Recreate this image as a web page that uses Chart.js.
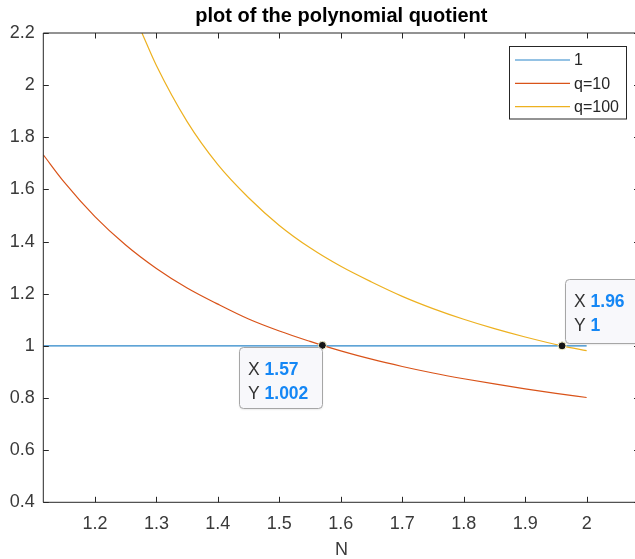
<!DOCTYPE html>
<html>
<head>
<meta charset="utf-8">
<script src="https://cdn.jsdelivr.net/npm/chart.js@4.4.0/dist/chart.umd.min.js"></script>
<style>
html, body { margin: 0; padding: 0; overflow: hidden; background: #fff; }
#wrap { width: 650px; height: 559px; }
</style>
</head>
<body>
<div id="wrap"><canvas id="c" width="650" height="559"></canvas></div>
<script>
// values
var xTicks = [1.2, 1.3, 1.4, 1.5, 1.6, 1.7, 1.8, 1.9, 2];
var yTicks = [0.4, 0.6, 0.8, 1, 1.2, 1.4, 1.6, 1.8, 2, 2.2];

var oneN = [1.116, 2.0];
var oneVal = [1, 1];

var q10N   = [1.116, 1.15, 1.20, 1.25, 1.30, 1.35, 1.40, 1.45, 1.50, 1.55, 1.57, 1.60, 1.65, 1.70, 1.75, 1.80, 1.85, 1.90, 1.95, 2.0];
var q10Val = [1.733, 1.628, 1.496, 1.387, 1.297, 1.222, 1.160, 1.103, 1.057, 1.017, 1.002, 0.981, 0.949, 0.921, 0.896, 0.874, 0.854, 0.835, 0.818, 0.802];

var q100N   = [1.2765, 1.30, 1.35, 1.40, 1.45, 1.50, 1.55, 1.60, 1.65, 1.70, 1.75, 1.80, 1.85, 1.90, 1.96, 2.0];
var q100Val = [2.2, 2.075, 1.860, 1.695, 1.568, 1.462, 1.376, 1.305, 1.245, 1.190, 1.143, 1.102, 1.066, 1.034, 1.0, 0.982];

var tipN = [1.57, 1.96];
var tipVal = [1.002, 1];
var tipLabels = [["1.57", "1.002"], ["1.96", "1"]];

var seriesNames = ["1", "q=10", "q=100"];
var seriesColors = ["#2a86c9", "#D95319", "#EDB120"];

var FONT = '"Liberation Sans", Arial, Helvetica, sans-serif';
var AXIS_COLOR = '#262626';
var TEXT_COLOR = '#3a3a3a';

function pts(xs, ys) {
    var out = [];
    for (var i = 0; i < xs.length; i++) out.push({x: xs[i], y: ys[i]});
    return out;
}

// axes box with inward ticks, like the original figure
var framePlugin = {
    id: 'frame',
    afterDatasetsDraw: function(chart) {
        var ctx = chart.ctx, a = chart.chartArea;
        var xs = chart.scales.x, ys = chart.scales.y;
        var tl = 5.5;
        ctx.save();
        ctx.strokeStyle = AXIS_COLOR;
        ctx.lineWidth = 1;
        ctx.beginPath();
        ctx.rect(a.left, a.top, a.right - a.left, a.bottom - a.top);
        for (var i = 0; i < xTicks.length; i++) {
            var px = Math.round(xs.getPixelForValue(xTicks[i])) + 0.5;
            ctx.moveTo(px, a.bottom); ctx.lineTo(px, a.bottom - tl);
            ctx.moveTo(px, a.top); ctx.lineTo(px, a.top + tl);
        }
        for (var j = 0; j < yTicks.length; j++) {
            var py = Math.round(ys.getPixelForValue(yTicks[j])) + 0.5;
            ctx.moveTo(a.left, py); ctx.lineTo(a.left + tl, py);
            ctx.moveTo(a.right, py); ctx.lineTo(a.right - tl, py);
        }
        ctx.stroke();
        ctx.restore();
    }
};

var legendPlugin = {
    id: 'boxLegend',
    afterDraw: function(chart) {
        var ctx = chart.ctx;
        var bx = 509.5, by = 46.5, bw = 117, bh = 72.5;
        ctx.save();
        ctx.fillStyle = '#fff';
        ctx.fillRect(bx, by, bw, bh);
        ctx.strokeStyle = AXIS_COLOR;
        ctx.lineWidth = 1;
        ctx.strokeRect(bx, by, bw, bh);
        ctx.font = '16px ' + FONT;
        ctx.textBaseline = 'middle';
        ctx.textAlign = 'left';
        for (var i = 0; i < seriesNames.length; i++) {
            var ry = 60 + i * 23.3;
            ctx.strokeStyle = seriesColors[i];
            ctx.lineWidth = 1.2;
            ctx.beginPath();
            ctx.moveTo(515, ry); ctx.lineTo(570, ry);
            ctx.stroke();
            ctx.fillStyle = AXIS_COLOR;
            ctx.fillText(seriesNames[i], 574, ry + 1);
        }
        ctx.restore();
    }
};

function roundRect(ctx, x, y, w, h, r) {
    ctx.beginPath();
    ctx.moveTo(x + r, y);
    ctx.lineTo(x + w - r, y); ctx.quadraticCurveTo(x + w, y, x + w, y + r);
    ctx.lineTo(x + w, y + h - r); ctx.quadraticCurveTo(x + w, y + h, x + w - r, y + h);
    ctx.lineTo(x + r, y + h); ctx.quadraticCurveTo(x, y + h, x, y + h - r);
    ctx.lineTo(x, y + r); ctx.quadraticCurveTo(x, y, x + r, y);
    ctx.closePath();
}

// data tips next to the two marked points
var tipPlugin = {
    id: 'dataTips',
    afterDraw: function(chart) {
        var ctx = chart.ctx;
        var xs = chart.scales.x, ys = chart.scales.y;
        // box offsets relative to the marked point
        var offs = [{dx: -83, dy: 1.5, w: 83, h: 61}, {dx: 3, dy: -66.5, w: 76, h: 64}];
        ctx.save();
        for (var i = 0; i < tipN.length; i++) {
            var px = xs.getPixelForValue(tipN[i]);
            var py = ys.getPixelForValue(tipVal[i]);
            var o = offs[i];
            var bx = Math.round(px + o.dx) + 0.5, by = Math.round(py + o.dy) + 0.5;
            ctx.shadowColor = 'rgba(0,0,0,0.12)';
            ctx.shadowBlur = 2;
            ctx.shadowOffsetY = 1;
            roundRect(ctx, bx, by, o.w, o.h, 4);
            ctx.fillStyle = '#f8f8fb';
            ctx.fill();
            ctx.shadowColor = 'transparent';
            ctx.strokeStyle = '#a6a6a6';
            ctx.lineWidth = 1;
            ctx.stroke();

            ctx.textBaseline = 'alphabetic';
            ctx.textAlign = 'left';
            var names = ['X ', 'Y '];
            for (var k = 0; k < 2; k++) {
                var ty = by + 27.5 + k * 23.5;
                ctx.font = '17.5px ' + FONT;
                ctx.fillStyle = '#333';
                ctx.fillText(names[k], bx + 8.5, ty);
                var w = ctx.measureText(names[k]).width;
                ctx.font = 'bold 17.5px ' + FONT;
                ctx.fillStyle = '#1587f5';
                ctx.fillText(tipLabels[i][k], bx + 8.5 + w, ty);
            }
        }
        ctx.restore();
    }
};

Chart.defaults.font.family = FONT;

new Chart(document.getElementById('c'), {
    type: 'line',
    data: {
        datasets: [
            {
                label: 'tips', data: pts(tipN, tipVal), showLine: false, order: 0,
                pointRadius: 4, pointBackgroundColor: '#141414', pointBorderColor: '#fffbd0', pointBorderWidth: 1
            },
            {
                label: seriesNames[0], data: pts(oneN, oneVal), order: 3,
                borderColor: seriesColors[0], borderWidth: 1.2, pointRadius: 0
            },
            {
                label: seriesNames[1], data: pts(q10N, q10Val), order: 2,
                borderColor: seriesColors[1], borderWidth: 1.2, pointRadius: 0, cubicInterpolationMode: 'monotone'
            },
            {
                label: seriesNames[2], data: pts(q100N, q100Val), order: 1,
                borderColor: seriesColors[2], borderWidth: 1.2, pointRadius: 0, cubicInterpolationMode: 'monotone'
            }
        ]
    },
    options: {
        responsive: false,
        animation: false,
        devicePixelRatio: 1,
        layout: { padding: { left: 0, right: 10.5, top: 0, bottom: 0 } },
        plugins: {
            legend: { display: false },
            tooltip: { enabled: false },
            title: {
                display: true,
                fullSize: false,
                text: 'plot of the polynomial quotient',
                color: '#000',
                font: { size: 20, weight: 'bold', family: FONT, lineHeight: 1.2 },
                padding: { top: 4, bottom: 5 }
            }
        },
        scales: {
            x: {
                type: 'linear',
                min: 1.116,
                max: 2.086,
                afterFit: function(s) { s.height = 56.7; },
                afterBuildTicks: function(s) { s.ticks = xTicks.map(function(v) { return {value: v}; }); },
                grid: { display: false, drawTicks: false },
                border: { display: false },
                ticks: {
                    padding: 10.5, color: TEXT_COLOR, font: { size: 18 }, maxRotation: 0, autoSkip: false,
                    callback: function(v) { return String(v); }
                },
                title: {
                    display: true, text: 'N', color: TEXT_COLOR,
                    font: { size: 18, lineHeight: 1 }, padding: { top: 0, bottom: 0 }
                }
            },
            y: {
                type: 'linear',
                min: 0.4,
                max: 2.2,
                afterFit: function(s) { s.width = 43.3; },
                afterBuildTicks: function(s) { s.ticks = yTicks.map(function(v) { return {value: v}; }); },
                grid: { display: false, drawTicks: false },
                border: { display: false },
                ticks: {
                    padding: 8.5, color: TEXT_COLOR, font: { size: 18 }, autoSkip: false,
                    callback: function(v) { return String(v); }
                }
            }
        }
    },
    plugins: [framePlugin, tipPlugin, legendPlugin]
});
</script>
</body>
</html>
